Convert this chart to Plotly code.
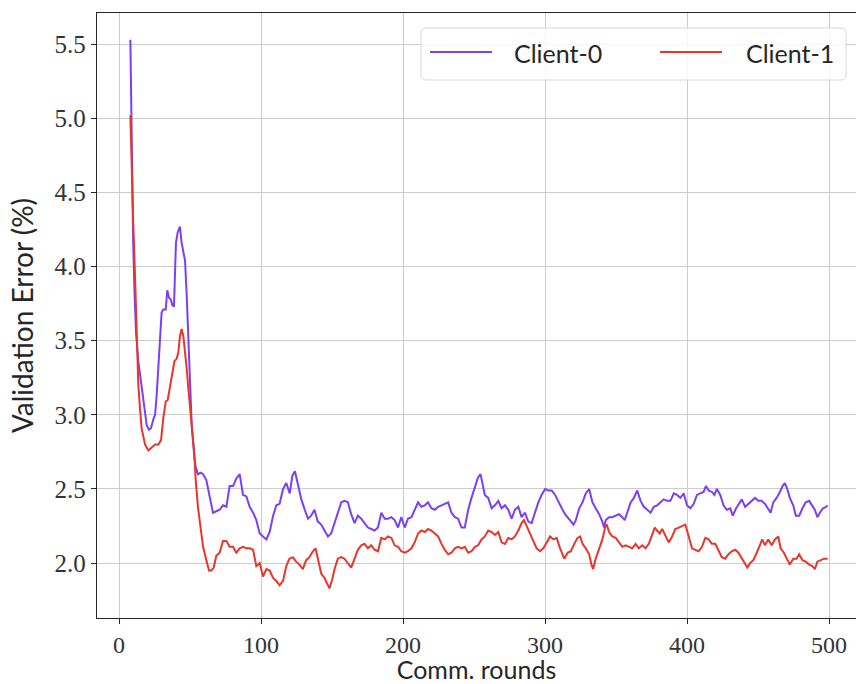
import plotly.graph_objects as go

# ---- data ----
rounds_c0 = [8, 9, 10, 11, 12, 13.6, 15.9, 17.1, 18.3, 19.5, 21.1, 22.5, 24.2, 25.4, 26.5, 27.7, 28.9,
             30.0, 31.2, 32.9, 34.0, 35.2, 36.4, 37.6, 38.7, 39.4, 40.1, 41.3, 42.9, 44.1, 45.3, 46.5,
             47.7, 48.8, 50.0, 51.2, 53.1, 54.0, 55.6, 57.5, 59.2, 61.5, 63.8, 66.2, 68.5, 70.9, 73.2,
             75.6, 77.9, 80.3, 82.6, 85.0, 87.3, 89.7, 92.0, 94.4, 96.7, 99.1, 101.4, 103.8, 106.1,
             108.5, 110.8, 113.1, 115.5, 117.8, 120.2, 122.1, 123.9, 126.1, 128.4, 130.8, 133.1,
             135.3, 137.6, 140.0, 142.4, 144.7, 147.1, 149.4, 151.8, 154.1, 156.5, 158.8, 161.2,
             163.5, 165.9, 168.2, 170.6, 172.9, 175.3, 177.6, 180.0, 182.4, 184.7, 187.1, 189.4,
             191.8, 194.1, 196.5, 198.8, 201.2, 203.5, 205.9, 208.2, 210.6, 212.9, 215.3, 217.6,
             220.0, 222.4, 224.7, 227.1, 229.4, 231.8, 234.1, 236.5, 238.8, 241.2, 243.5, 245.9,
             248.2, 250.6, 252.9, 254.6, 256.0, 257.6, 260.0, 262.4, 264.7, 267.1, 269.4, 271.8,
             274.1, 276.5, 278.8, 281.2, 283.5, 285.9, 288.2, 290.6, 292.9, 295.3, 297.6, 300.0,
             302.4, 304.7, 307.1, 309.4, 311.8, 314.1, 315.9, 318.2, 320.1, 321.7, 324.1, 326.4,
             328.7, 331.1, 333.4, 335.7, 338.1, 340.4, 341.6, 342.8, 345.1, 347.4, 349.8, 352.1,
             354.4, 356.1, 357.9, 360.3, 362.6, 364.9, 367.3, 369.6, 372.0, 374.3, 376.6, 379.0,
             381.3, 383.6, 386.0, 388.3, 390.7, 393.0, 395.3, 397.7, 400.0, 402.3, 404.7, 407.0,
             409.3, 411.7, 413.3, 415.2, 417.5, 419.2, 421.0, 423.4, 425.7, 428.0, 430.4, 432.2,
             434.6, 436.9, 438.6, 440.9, 443.2, 445.6, 447.9, 450.2, 452.6, 454.9, 457.2, 458.9,
             460.7, 463.1, 465.4, 467.3, 468.9, 470.6, 472.4, 474.8, 476.6, 479.0, 481.3, 483.6,
             486.0, 488.3, 490.0, 491.8, 493.5, 495.8, 498.1, 499]
err_c0 = [5.53, 4.60, 4.15, 3.80, 3.55, 3.36, 3.20, 3.11, 3.02, 2.93, 2.90, 2.91, 2.97, 3.00, 3.13, 3.31, 3.53,
          3.69, 3.71, 3.71, 3.84, 3.79, 3.78, 3.74, 3.73, 3.93, 4.16, 4.23, 4.27, 4.16, 4.11, 4.04,
          3.80, 3.49, 3.16, 2.93, 2.71, 2.65, 2.60, 2.61, 2.60, 2.56, 2.45, 2.34, 2.35, 2.36, 2.39,
          2.38, 2.52, 2.52, 2.57, 2.60, 2.46, 2.45, 2.38, 2.34, 2.29, 2.20, 2.18, 2.16, 2.21,
          2.32, 2.39, 2.40, 2.50, 2.54, 2.47, 2.59, 2.62, 2.53, 2.43, 2.36, 2.30,
          2.32, 2.36, 2.28, 2.26, 2.22, 2.18, 2.20, 2.27, 2.33, 2.41, 2.42, 2.41,
          2.33, 2.27, 2.32, 2.30, 2.27, 2.24, 2.23, 2.22, 2.24, 2.34, 2.30, 2.30,
          2.31, 2.29, 2.24, 2.31, 2.24, 2.30, 2.31, 2.36, 2.41, 2.38, 2.39, 2.41,
          2.37, 2.36, 2.38, 2.39, 2.40, 2.41, 2.34, 2.31, 2.30, 2.24, 2.24, 2.36,
          2.44, 2.51, 2.58, 2.60, 2.53, 2.46, 2.44, 2.37, 2.39, 2.42, 2.37, 2.39,
          2.36, 2.30, 2.36, 2.38, 2.31, 2.34, 2.28, 2.27, 2.34, 2.41, 2.46, 2.50,
          2.49, 2.49, 2.46, 2.41, 2.37, 2.33, 2.31, 2.28, 2.26, 2.29, 2.37, 2.41,
          2.47, 2.50, 2.41, 2.37, 2.33, 2.28, 2.24, 2.29, 2.31, 2.31, 2.32, 2.33,
          2.31, 2.29, 2.34, 2.41, 2.44, 2.49, 2.42, 2.38, 2.36, 2.34, 2.38, 2.39,
          2.41, 2.43, 2.42, 2.42, 2.47, 2.46, 2.44, 2.47, 2.39, 2.37, 2.40, 2.46,
          2.47, 2.48, 2.52, 2.49, 2.48, 2.46, 2.50, 2.46, 2.39, 2.36, 2.37, 2.32,
          2.37, 2.41, 2.43, 2.38, 2.40, 2.42, 2.44, 2.42, 2.42, 2.40, 2.37, 2.34,
          2.41, 2.44, 2.48, 2.52, 2.54, 2.50, 2.44, 2.39, 2.32, 2.32, 2.37, 2.41,
          2.42, 2.38, 2.36, 2.31, 2.34, 2.37, 2.38, 2.39]

rounds_c1 = [8, 9, 10, 11.3, 12.4, 13.6, 14.8, 15.9, 18.3, 20.7, 23.0, 25.4, 27.7, 29.6, 31.2, 32.9,
             34.3, 36.0, 37.6, 39.0, 40.6, 41.8, 42.9, 44.1, 45.3, 46.5, 47.7, 48.8, 50.0, 51.2, 53.1,
             54.0, 55.6, 57.3, 59.2, 61.5, 63.4, 65.0, 66.7, 68.5, 70.9, 73.2, 75.6, 77.9, 80.3, 82.6,
             85.0, 87.3, 89.7, 92.0, 94.4, 96.7, 99.1, 101.4, 103.8, 106.1, 108.5, 110.8, 113.1, 115.5,
             117.8, 120.0, 122.4, 124.7, 127.1, 129.4, 131.8, 134.1, 136.5, 138.4, 140.0, 142.4, 144.7,
             146.4, 148.2, 150.1, 151.8, 154.1, 156.5, 158.8, 161.2, 163.5, 165.9, 168.2, 170.6, 172.9,
             175.3, 177.6, 180.0, 182.4, 184.7, 187.1, 189.4, 191.8, 194.1, 196.5, 198.8, 201.2, 203.5,
             205.9, 208.2, 210.6, 212.9, 215.3, 217.6, 220.0, 222.4, 224.7, 227.1, 229.4, 231.8, 234.1,
             236.5, 238.8, 241.2, 243.5, 245.9, 248.2, 250.6, 252.9, 255.3, 257.6, 260.0, 262.4, 264.7,
             267.1, 269.4, 271.8, 274.1, 276.5, 278.8, 281.2, 283.5, 285.2, 287.1, 289.4, 291.8, 294.1,
             296.5, 298.8, 301.2, 303.5, 305.9, 308.2, 310.6, 313.6, 315.9, 318.2, 320.6, 322.9, 324.8,
             326.4, 328.7, 331.1, 332.7, 333.9, 335.7, 338.1, 340.4, 342.3, 343.5, 345.1, 347.4, 349.8,
             352.1, 354.4, 356.8, 359.1, 361.4, 363.8, 366.1, 368.5, 370.8, 373.1, 375.5, 377.3, 378.9,
             380.8, 382.5, 384.8, 387.1, 389.5, 391.8, 394.2, 396.5, 398.8, 401.2, 403.5, 405.8, 408.2,
             410.5, 412.9, 415.2, 417.5, 419.9, 422.2, 424.5, 426.9, 429.2, 431.5, 433.9, 436.2, 438.6,
             440.9, 442.5, 444.4, 446.7, 449.1, 451.4, 453.0, 454.9, 457.2, 459.6, 461.9, 464.3, 465.9,
             468.2, 470.6, 472.4, 474.8, 477.1, 479.0, 481.3, 483.6, 486.0, 488.3, 490.0, 491.8, 494.2,
             496.5, 498.1, 499]
err_c1 = [5.02, 4.55, 4.30, 3.93, 3.49, 3.20, 3.04, 2.91, 2.80, 2.76, 2.78, 2.80, 2.80, 2.83, 2.98, 3.09,
          3.10, 3.20, 3.27, 3.36, 3.38, 3.42, 3.53, 3.58, 3.53, 3.44, 3.31, 3.18, 3.04, 2.91, 2.73,
          2.56, 2.38, 2.25, 2.11, 2.02, 1.95, 1.95, 1.97, 2.05, 2.07, 2.15, 2.15, 2.11, 2.11, 2.07,
          2.10, 2.11, 2.10, 2.10, 2.09, 1.98, 2.00, 1.91, 1.96, 1.95, 1.90, 1.88, 1.85, 1.88,
          1.98, 2.03, 2.04, 2.01, 1.99, 1.96, 2.02, 2.04, 2.08, 2.10, 2.04, 1.93, 1.90,
          1.87, 1.83, 1.89, 1.96, 2.03, 2.04, 2.03, 2.00, 1.97, 2.03, 2.09, 2.12, 2.13,
          2.10, 2.12, 2.09, 2.08, 2.17, 2.16, 2.18, 2.17, 2.12, 2.11, 2.08, 2.07, 2.08,
          2.10, 2.14, 2.20, 2.22, 2.21, 2.23, 2.22, 2.20, 2.18, 2.13, 2.09, 2.06, 2.07,
          2.10, 2.11, 2.10, 2.11, 2.07, 2.08, 2.11, 2.12, 2.16, 2.18, 2.22, 2.21, 2.19,
          2.21, 2.14, 2.13, 2.17, 2.16, 2.18, 2.22, 2.27, 2.29, 2.25, 2.20, 2.14, 2.10,
          2.08, 2.10, 2.14, 2.18, 2.16, 2.17, 2.10, 2.03, 2.07, 2.08, 2.13, 2.17, 2.18,
          2.13, 2.10, 2.06, 1.99, 1.96, 2.03, 2.09, 2.16, 2.24, 2.26, 2.21, 2.18, 2.17,
          2.14, 2.11, 2.12, 2.11, 2.10, 2.13, 2.10, 2.12, 2.10, 2.13, 2.20, 2.24, 2.22,
          2.20, 2.23, 2.19, 2.14, 2.18, 2.23, 2.24, 2.25, 2.26, 2.18, 2.10, 2.09, 2.08,
          2.11, 2.17, 2.16, 2.13, 2.13, 2.08, 2.04, 2.03, 2.06, 2.08, 2.09, 2.07, 2.03,
          1.99, 1.97, 2.00, 2.02, 2.07, 2.13, 2.16, 2.12, 2.16, 2.12, 2.16, 2.18, 2.10,
          2.07, 2.03, 1.99, 2.03, 2.03, 2.06, 2.02, 2.01, 1.99, 1.98, 1.96, 2.01, 2.02,
          2.03, 2.03, 2.03]

series_names = ["Client-0", "Client-1"]
series_colors = ["#7b3ff5", "#e8362c"]
x_ticks = [0, 100, 200, 300, 400, 500]
y_ticks = [2.0, 2.5, 3.0, 3.5, 4.0, 4.5, 5.0, 5.5]

# ---- layout constants (pixels) ----
W, H = 856, 684
L, R, T, B = 97, 0, 13, 66
PW, PH = W - L - R, H - T - B

def px(x):
    return (x - L) / PW

def py(y):
    return (H - B - y) / PH

SERIF = "Liberation Serif, DejaVu Serif, serif"
SANS = "Lato, DejaVu Sans, sans-serif"
TXT = "#262626"

fig = go.Figure()
for xs, ys, name, col in [(rounds_c0, err_c0, series_names[0], series_colors[0]),
                          (rounds_c1, err_c1, series_names[1], series_colors[1])]:
    fig.add_trace(go.Scatter(x=xs, y=ys, mode="lines", name=name,
                             line=dict(color=col, width=2), showlegend=False))

fig.update_layout(
    width=W, height=H,
    margin=dict(l=L, r=R, t=T, b=B, pad=0),
    paper_bgcolor="white", plot_bgcolor="white",
    showlegend=False,
)
fig.update_xaxes(
    range=[-15.5, 519], tickvals=x_ticks, ticktext=[str(v) for v in x_ticks],
    showgrid=True, gridcolor="#cccccc", gridwidth=1, zeroline=False,
    showline=True, linecolor="#262626", linewidth=1.3, mirror=True,
    ticks="outside", ticklen=5, tickwidth=1.2, tickcolor="#262626",
    tickfont=dict(family=SERIF, size=24, color="#333333"),
    title=dict(text="Comm. rounds", font=dict(family=SANS, size=25, color=TXT), standoff=10),
)
fig.update_yaxes(
    range=[1.63, 5.71], tickvals=y_ticks, ticktext=[f"{v:.1f}" for v in y_ticks],
    showgrid=True, gridcolor="#cccccc", gridwidth=1, zeroline=False,
    showline=True, linecolor="#262626", linewidth=1.3, mirror=False,
    ticks="outside", ticklen=5, tickwidth=1.2, tickcolor="#262626",
    tickfont=dict(family=SERIF, size=25, color="#333333"),
    title=dict(text="Validation Error (%)", font=dict(family=SANS, size=28, color=TXT), standoff=12),
)

# ---- legend box drawn like matplotlib's ----
bx0, bx1, by0, by1, rr = 421, 846, 28, 80, 5
path = (f"M{px(bx0 + rr)},{py(by0)} L{px(bx1 - rr)},{py(by0)} "
        f"Q{px(bx1)},{py(by0)} {px(bx1)},{py(by0 + rr)} "
        f"L{px(bx1)},{py(by1 - rr)} Q{px(bx1)},{py(by1)} {px(bx1 - rr)},{py(by1)} "
        f"L{px(bx0 + rr)},{py(by1)} Q{px(bx0)},{py(by1)} {px(bx0)},{py(by1 - rr)} "
        f"L{px(bx0)},{py(by0 + rr)} Q{px(bx0)},{py(by0)} {px(bx0 + rr)},{py(by0)} Z")
fig.add_shape(type="path", path=path, xref="paper", yref="paper",
              fillcolor="rgba(255,255,255,0.82)", line=dict(color="#d8d8d8", width=1), layer="above")
for (lx0, lx1, tx), name, col in zip([(430, 492, 512), (660, 722, 744)], series_names, series_colors):
    fig.add_shape(type="line", xref="paper", yref="paper",
                  x0=px(lx0), x1=px(lx1), y0=py(52), y1=py(52),
                  line=dict(color=col, width=2), layer="above")
    fig.add_annotation(text=name, xref="paper", yref="paper", x=px(tx), y=py(53),
                       xanchor="left", yanchor="middle", showarrow=False,
                       font=dict(family=SANS, size=25, color=TXT))

fig.write_html("out.html", config={"displayModeBar": False},
               post_script="document.body.style.margin='0';document.body.style.padding='0';"
                           "document.body.style.overflow='hidden';")
